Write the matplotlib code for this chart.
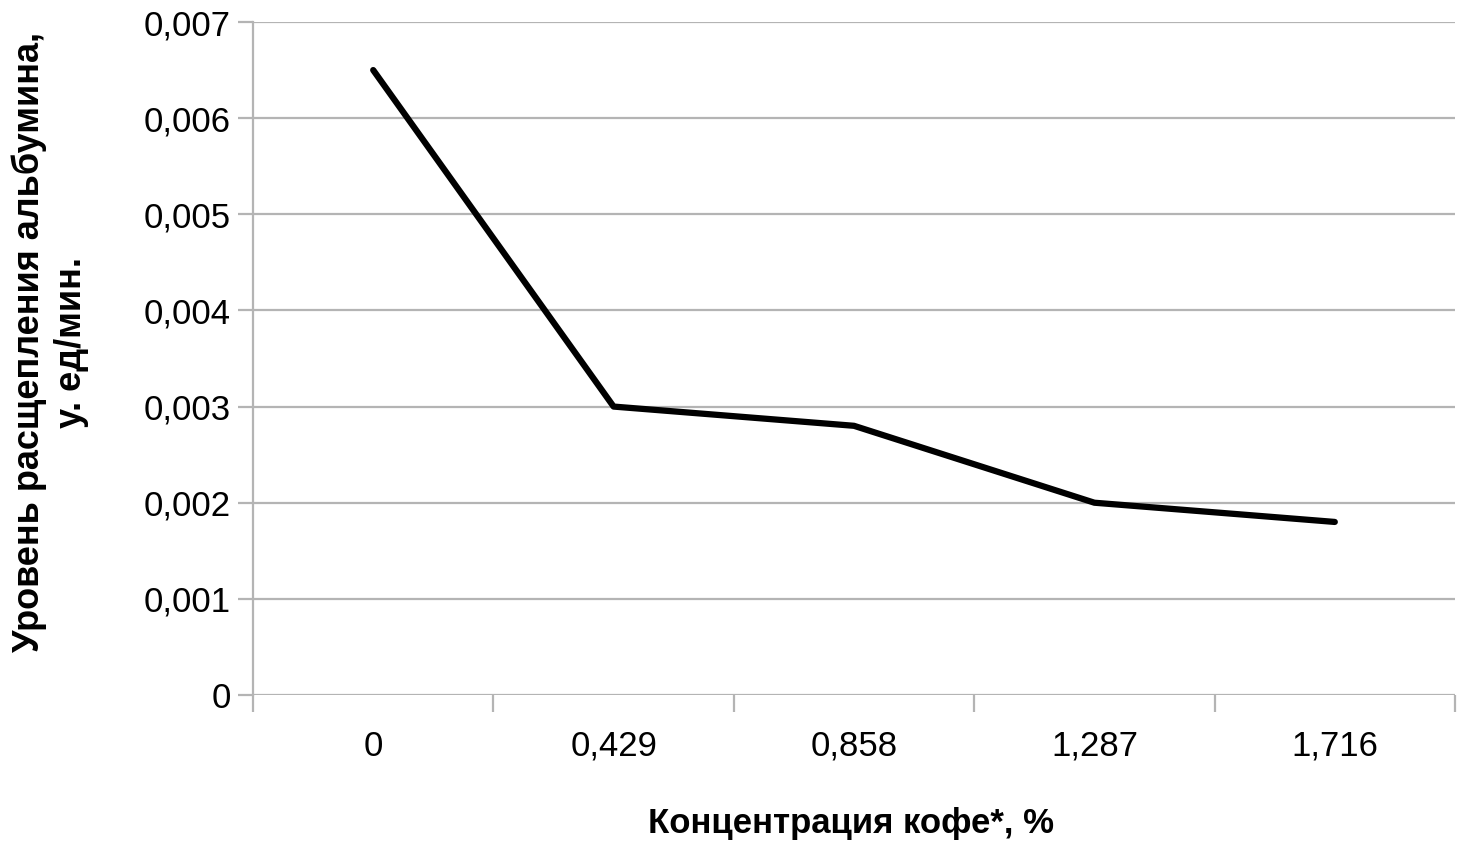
import matplotlib.pyplot as plt
import numpy as np

# coffee concentration categories and albumin cleavage level
categories = ['0', '0,429', '0,858', '1,287', '1,716']
values = [0.0065, 0.0030, 0.0028, 0.0020, 0.0018]
y_ticks = [0, 0.001, 0.002, 0.003, 0.004, 0.005, 0.006, 0.007]
y_tick_labels = ['0', '0,001', '0,002', '0,003', '0,004', '0,005', '0,006', '0,007']

plt.rcParams['font.family'] = ['Liberation Sans', 'DejaVu Sans']

fig = plt.figure(figsize=(14.6, 8.48), dpi=100)
ax = fig.add_axes([253 / 1460, 1 - 695 / 848, 1202 / 1460, 673 / 848])

grid_col = '#b4b4b4'
x = np.arange(len(categories))
ax.set_xlim(-0.5, len(categories) - 0.5)
ax.set_ylim(0, 0.007)

# horizontal gridlines
for t in y_ticks:
    ax.axhline(t, color=grid_col, lw=1.6, zorder=1)

ax.plot(x, values, color='black', lw=4.5, solid_capstyle='round', zorder=3)

# axes styling, excel-like
for s in ['top', 'right', 'bottom']:
    ax.spines[s].set_visible(False)
ax.spines['left'].set_color(grid_col)
ax.spines['left'].set_linewidth(1.6)

ax.set_yticks(y_ticks)
ax.set_yticklabels(y_tick_labels, fontsize=25)
ax.tick_params(axis='y', length=11, width=1.6, color=grid_col, pad=5)

ax.set_xticks(x)
ax.set_xticklabels(categories, fontsize=25)
ax.set_xticks(np.arange(len(categories) + 1) - 0.5, minor=True)
ax.tick_params(axis='x', which='major', length=0, pad=25)
ax.tick_params(axis='x', which='minor', length=12, width=1.6, color=grid_col)

fig.text(851 / 1460, 1 - 823 / 848, 'Концентрация кофе*, %', fontsize=25,
         fontweight='bold', ha='center', va='center')
fig.text(50 / 1460, 1 - 342 / 848, 'Уровень расщепления альбумина,\nу. ед/мин.',
         fontsize=26, fontweight='bold', ha='center', va='center', rotation=90,
         linespacing=1.25)

fig.savefig('out.png', dpi=100)
